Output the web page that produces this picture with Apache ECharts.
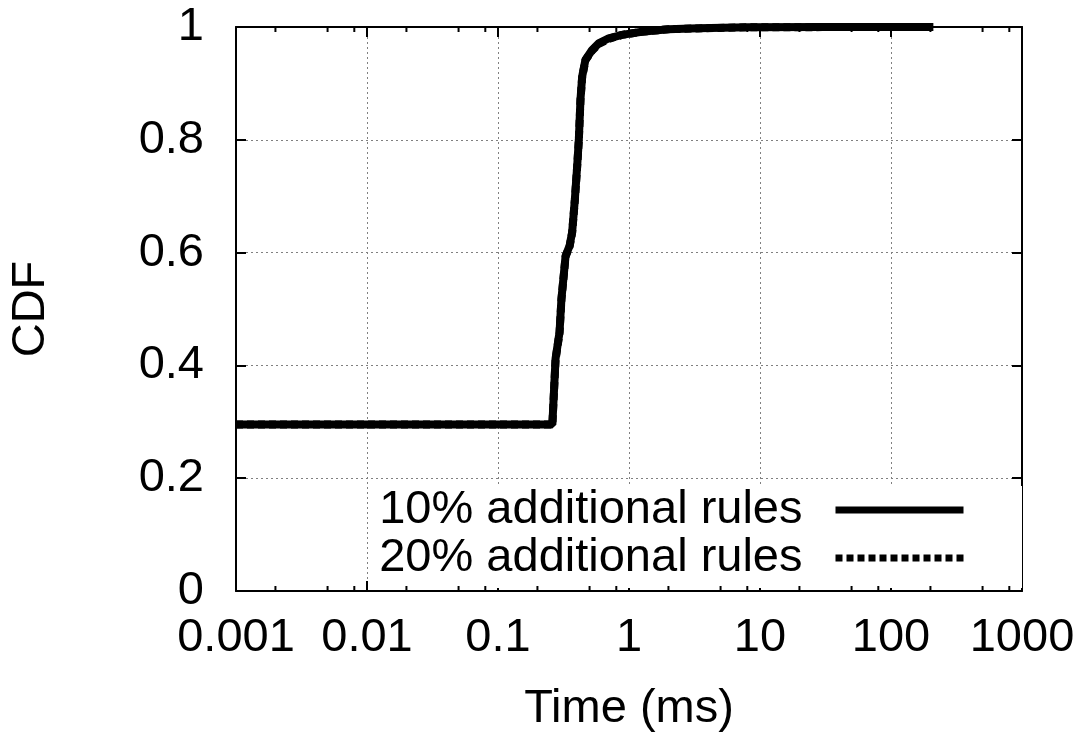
<!DOCTYPE html>
<html>
<head>
<meta charset="utf-8">
<script src="https://cdn.jsdelivr.net/npm/echarts@6/dist/echarts.min.js"></script>
<style>
html,body{margin:0;padding:0;background:#fff;}
#chart{width:1086px;height:738px;}
</style>
</head>
<body>
<div id="chart"></div>
<script>
// ---- data ----
const seriesNames = ['10% additional rules', '20% additional rules'];
const time10 = [0.001, 0.26, 0.275, 0.295, 0.305, 0.328, 0.352, 0.368, 0.386, 0.402, 0.414, 0.426, 0.439, 0.465, 0.522, 0.587, 0.70, 0.883, 1.25, 2.0, 3.37, 8.1, 30, 100, 210];
const cdf10  = [0.295, 0.295, 0.412, 0.459, 0.518, 0.594, 0.612, 0.636, 0.694, 0.753, 0.800, 0.871, 0.912, 0.942, 0.959, 0.971, 0.980, 0.986, 0.9917, 0.996, 0.9976, 0.9994, 0.9998, 1.0, 1.0];
const time20 = [0.001, 0.26, 0.275, 0.295, 0.305, 0.328, 0.352, 0.368, 0.386, 0.402, 0.414, 0.426, 0.439, 0.465, 0.522, 0.587, 0.70, 0.883, 1.25, 2.0, 3.37, 8.1, 30, 100, 210];
const cdf20  = [0.295, 0.295, 0.410, 0.458, 0.517, 0.593, 0.611, 0.635, 0.693, 0.752, 0.799, 0.870, 0.911, 0.941, 0.958, 0.970, 0.979, 0.986, 0.9915, 0.996, 0.9975, 0.9994, 0.9998, 1.0, 1.0];
const xTickLabels = ['0.001', '0.01', '0.1', '1', '10', '100', '1000'];
const xMinorTickValues = [];
[0.001, 0.01, 0.1, 1, 10, 100].forEach(function (d) {
  [2, 5, 8].forEach(function (m) { xMinorTickValues.push(+(d * m).toPrecision(3)); });
});
const yTickLabels = ['0', '0.2', '0.4', '0.6', '0.8', '1'];

// ---- chart ----
const FONT = "'Liberation Sans', Arial, Helvetica, sans-serif";
const FS = 47;
const chart = echarts.init(document.getElementById('chart'), null, {renderer: 'canvas'});

function pairs(xs, ys) { return xs.map(function (x, i) { return [x, ys[i]]; }); }

const gridLine = {show: true, lineStyle: {color: '#808080', width: 1, type: [2, 3]}};
const axisLine = {show: true, onZero: false, lineStyle: {color: '#000', width: 2}};

const option = {
  backgroundColor: '#fff',
  animation: false,
  textStyle: {fontFamily: FONT},
  grid: {left: 232, right: 64, top: 27, bottom: 145, containLabel: false},
  xAxis: [
    {
      type: 'log', logBase: 10, min: 0.001, max: 1000, splitNumber: 6,
      position: 'bottom',
      name: 'Time (ms)', nameLocation: 'middle', nameGap: 96,
      nameTextStyle: {fontSize: FS, color: '#000', fontFamily: FONT, lineHeight: 45},
      axisLine: axisLine,
      axisTick: {show: true, inside: true, length: 10, lineStyle: {color: '#000', width: 2}},
      axisLabel: {
        fontSize: FS, color: '#000', fontFamily: FONT, margin: 25, lineHeight: 45,
        showMinLabel: true, showMaxLabel: true,
        formatter: function (v) { return xTickLabels[Math.round(Math.log10(v)) + 3]; }
      },
      splitLine: gridLine,
      minorTick: {show: false}
    },
    {
      type: 'log', logBase: 10, min: 0.001, max: 1000, splitNumber: 6,
      position: 'top',
      axisLine: axisLine,
      axisTick: {show: true, inside: true, length: 10, lineStyle: {color: '#000', width: 2}},
      axisLabel: {show: false},
      splitLine: {show: false}
    }
  ],
  yAxis: [
    {
      type: 'value', min: 0, max: 1, interval: 0.2,
      position: 'left',
      name: 'CDF', nameLocation: 'middle', nameGap: 182,
      nameTextStyle: {fontSize: FS, color: '#000', fontFamily: FONT, lineHeight: 45},
      axisLine: axisLine,
      axisTick: {show: true, inside: true, length: 10, lineStyle: {color: '#000', width: 2}},
      axisLabel: {
        fontSize: FS, color: '#000', fontFamily: FONT, margin: 32,
        formatter: function (v) { return yTickLabels[Math.round(v * 5)]; }
      },
      splitLine: gridLine
    },
    {
      type: 'value', min: 0, max: 1, interval: 0.2,
      position: 'right',
      axisLine: axisLine,
      axisTick: {show: true, inside: true, length: 10, lineStyle: {color: '#000', width: 2}},
      axisLabel: {show: false},
      splitLine: {show: false}
    }
  ],
  legend: {
    data: [
      {name: seriesNames[0], lineStyle: {type: 'solid'}},
      {name: seriesNames[1], lineStyle: {type: [7, 4]}}
    ],
    orient: 'vertical',
    right: 64, top: 486,
    align: 'right',
    padding: [0, 55, 6, 4],
    itemGap: 0,
    itemWidth: 128,
    itemHeight: 14,
    backgroundColor: '#fff',
    selectedMode: false,
    lineStyle: {width: 7, color: '#000'},
    itemStyle: {opacity: 0, color: 'transparent', borderColor: 'transparent', borderWidth: 0},
    textStyle: {fontSize: FS, color: '#000', fontFamily: FONT, lineHeight: 48, padding: [0, 28, 0, 0]}
  },
  series: [
    {
      name: seriesNames[1], type: 'line', xAxisIndex: 0, yAxisIndex: 0,
      data: pairs(time20, cdf20), showSymbol: false, symbol: 'none', smooth: false,
      lineStyle: {color: '#000', width: 8, type: [7, 4]},
      itemStyle: {color: '#000'}, z: 3
    },
    {
      name: seriesNames[0], type: 'line', xAxisIndex: 0, yAxisIndex: 0,
      data: pairs(time10, cdf10), showSymbol: false, symbol: 'none', smooth: false,
      lineStyle: {color: '#000', width: 8, type: 'solid'},
      itemStyle: {color: '#000'}, z: 4
    },
    {
      type: 'custom', xAxisIndex: 0, yAxisIndex: 0, silent: true, clip: false, z: 5,
      data: xMinorTickValues.map(function (v) { return [v, 0]; }),
      renderItem: function (params, api) {
        const v = api.value(0);
        const b = api.coord([v, 0]);
        const t = api.coord([v, 1]);
        return {
          type: 'group',
          children: [
            {type: 'line', shape: {x1: b[0], y1: b[1], x2: b[0], y2: b[1] - 5}, style: {stroke: '#000', lineWidth: 2}},
            {type: 'line', shape: {x1: t[0], y1: t[1], x2: t[0], y2: t[1] + 5}, style: {stroke: '#000', lineWidth: 2}}
          ]
        };
      }
    }
  ]
};
chart.setOption(option);
</script>
</body>
</html>
